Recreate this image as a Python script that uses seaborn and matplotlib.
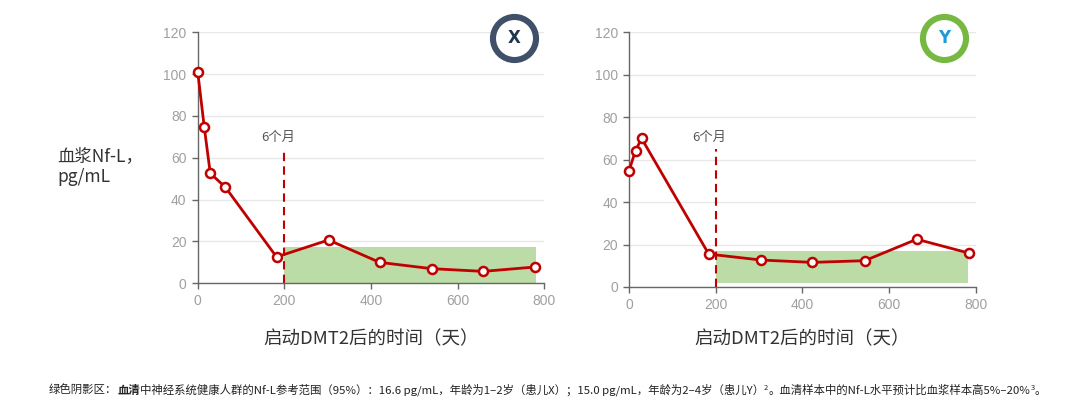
import matplotlib
matplotlib.use("Agg")
import matplotlib.pyplot as plt
import seaborn as sns
import pandas as pd
from matplotlib.lines import Line2D

# ---------------- data ----------------
days_x = [0, 15, 29, 64, 182, 302, 420, 540, 659, 779]
nfl_x = [101.2, 74.9, 52.6, 45.9, 12.6, 20.7, 10.0, 7.0, 5.7, 7.8]
days_y = [0, 15, 29, 184, 305, 423, 544, 664, 784]
nfl_y = [54.8, 64.2, 70.0, 15.5, 12.7, 11.6, 12.4, 22.5, 16.0]

band_x_days = [200, 780]
band_x_range = [0, 17.3]
band_y_days = [200, 783]
band_y_range = [2.0, 16.8]

six_month_day = 200
vline_top = [64, 65]
six_month_label = "6个月"

x_ticks = [0, 200, 400, 600, 800]
y_ticks = [0, 20, 40, 60, 80, 100, 120]
patients = ["X", "Y"]

xlabel = "启动DMT2后的时间（天）"
ylabel = "血浆Nf-L，\npg/mL"

foot_parts = [
    ("绿色阴影区：", "normal"),
    ("血清", "bold"),
    ("中神经系统健康人群的Nf-L参考范围（95%）：16.6 pg/mL，年龄为1–2岁（患儿X）；15.0 pg/mL，年龄为2–4岁（患儿Y）", "normal"),
    ("2", "sup"),
    ("。血清样本中的Nf-L水平预计比血浆样本高5%–20%", "normal"),
    ("3", "sup"),
    ("。", "normal"),
]

# ---------------- style ----------------
sns.set_theme(style="white")
plt.rcParams["font.family"] = ["Noto Sans CJK SC", "DejaVu Sans"]

RED = "#c00000"
GREEN_BAND = "#bbdca6"
GRID = "#e8e8e8"
SPINE = "#666666"
TICKLBL = "#a0a0a0"

W, H = 1080, 403
fig = plt.figure(figsize=(W / 100, H / 100), dpi=100)
fig.patch.set_facecolor("white")

ax1 = fig.add_axes([197.7 / W, (H - 283.3) / H, 346.6 / W, 251.0 / H])
ax2 = fig.add_axes([629.0 / W, (H - 287.0) / H, 346.7 / W, 254.7 / H])

panels = [
    (ax1, days_x, nfl_x, band_x_days, band_x_range, vline_top[0]),
    (ax2, days_y, nfl_y, band_y_days, band_y_range, vline_top[1]),
]

for ax, d, v, bd, br, vt in panels:
    ax.set_facecolor("white")
    ax.set_xlim(0, 800)
    ax.set_ylim(0, 120)
    ax.set_xticks(x_ticks)
    ax.set_yticks(y_ticks)
    ax.yaxis.grid(True, color=GRID, lw=1.0)
    ax.xaxis.grid(False)
    ax.set_axisbelow(True)
    for s in ["top", "right"]:
        ax.spines[s].set_visible(False)
    for s in ["left", "bottom"]:
        ax.spines[s].set_color(SPINE)
        ax.spines[s].set_linewidth(1.0)
    ax.tick_params(axis="both", which="both", length=4.5, width=1, color=SPINE,
                   labelcolor=TICKLBL, labelsize=10, pad=3.5, left=True, bottom=True)
    for lbl in ax.get_xticklabels() + ax.get_yticklabels():
        lbl.set_fontfamily("Liberation Sans")

    ax.fill_between(bd, br[0], br[1], color=GREEN_BAND, lw=0, zorder=1)
    ax.plot([six_month_day, six_month_day], [0, vt], ls=(0, (4, 2.5)),
            color=RED, lw=1.5, zorder=2)
    ax.text(six_month_day - 15, vt + 5.5, six_month_label, ha="center", va="center",
            fontsize=9.5, color="#555555")

    df = pd.DataFrame({"day": d, "nfl": v})
    sns.lineplot(data=df, x="day", y="nfl", ax=ax, color=RED, lw=2,
                 marker="o", markersize=6.5, markerfacecolor="white",
                 markeredgecolor=RED, markeredgewidth=1.8, zorder=4, clip_on=False)
    ax.set_xlabel("")
    ax.set_ylabel("")
    # x-axis title, centred under the axes
    pos = ax.get_position()
    fig.text((pos.x0 + pos.x1) / 2, 1 - 339 / H, xlabel, ha="center", va="center",
             fontsize=13.3, color="#333333")

# badges
badge_specs = [
    (514, 38, "#3f5068", "#1f3550"),
    (944, 38, "#77b843", "#1b9cd8"),
]
for (cx, cy, ring, txtc), name in zip(badge_specs, patients):
    fig.add_artist(Line2D([cx / W], [1 - cy / H], transform=fig.transFigure,
                          marker="o", ms=31, mfc="white", mec=ring, mew=4.4, ls="none"))
    fig.text(cx / W, 1 - cy / H, name, ha="center", va="center", fontsize=12,
             fontweight="bold", color=txtc, family=["DejaVu Sans"])

# y label
fig.text(57 / W, 1 - 167 / H, ylabel, ha="left", va="center", fontsize=12.5,
         color="#333333", linespacing=1.2)

# footnote with mixed formatting
fig.canvas.draw()
renderer = fig.canvas.get_renderer()


def draw_foot(size, x0, y0, measure_only=False):
    x = x0
    arts = []
    for txt, kind in foot_parts:
        if kind == "sup":
            t = fig.text(x / W, (y0 + size * 0.45) / H, txt, fontsize=size * 0.65,
                         color="#222222", ha="left", va="baseline")
        else:
            t = fig.text(x / W, y0 / H, txt, fontsize=size, color="#222222",
                         fontweight=("bold" if kind == "bold" else "normal"),
                         ha="left", va="baseline")
        bb = t.get_window_extent(renderer)
        x = bb.x1
        arts.append(t)
    if measure_only:
        for a in arts:
            a.remove()
    return x - x0


base = 7.0
wdt = draw_foot(base, 49, 9, measure_only=True)
size = base * (1003 / wdt)
draw_foot(size, 49, 9)

fig.savefig("out.png", dpi=100, facecolor="white")
